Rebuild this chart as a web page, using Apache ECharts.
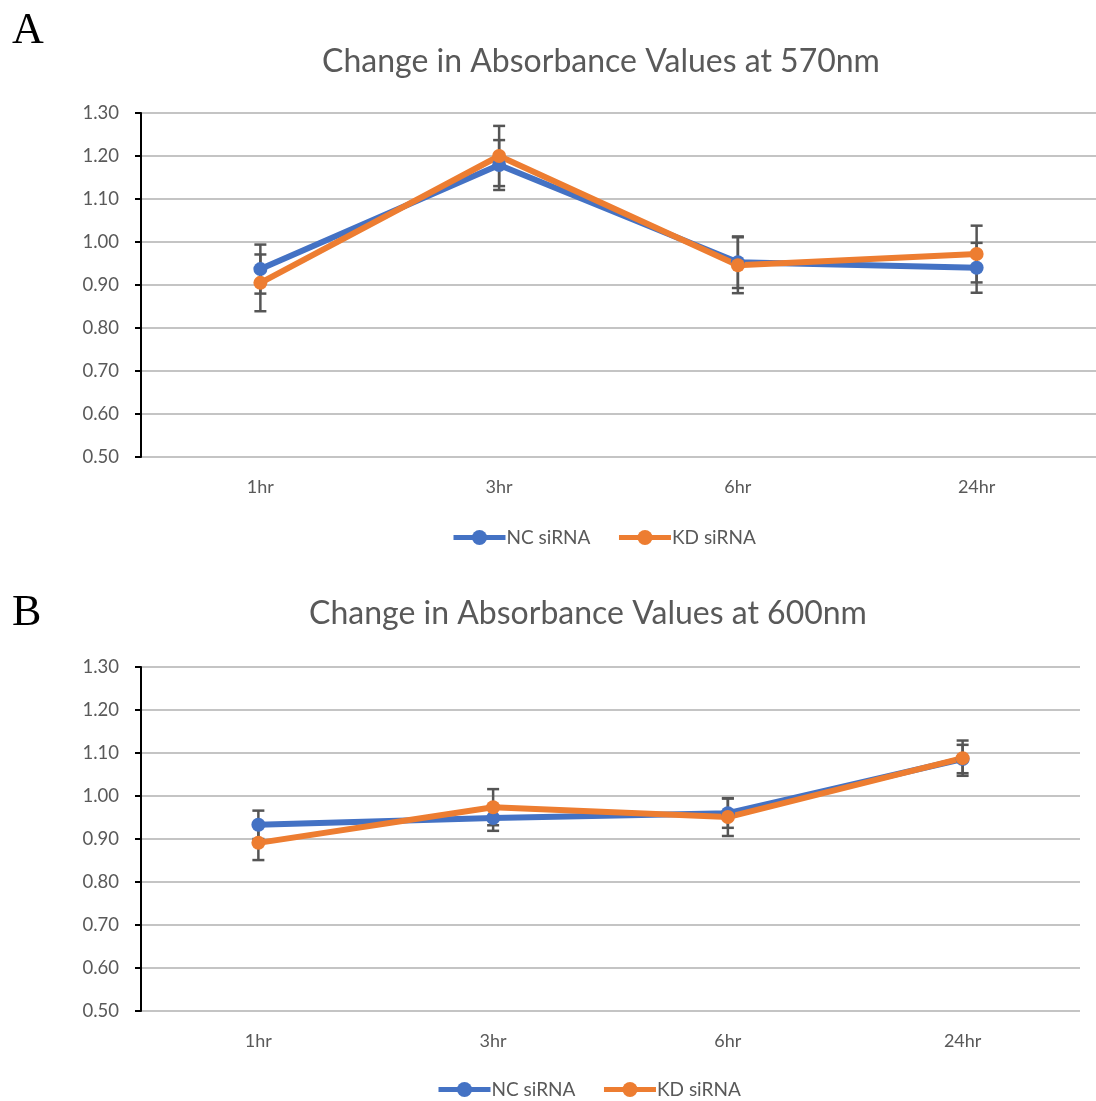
<!DOCTYPE html>
<html>
<head>
<meta charset="utf-8">
<title>Absorbance</title>
<script src="https://cdn.jsdelivr.net/npm/echarts@6/dist/echarts.min.js"></script>
<style>
html, body { margin: 0; padding: 0; background: #fff; }
#main { width: 1096px; height: 1101px; }
</style>
</head>
<body>
<div id="main"></div>
<script>
// data
var categories = ["1hr", "3hr", "6hr", "24hr"];
var seriesNames = ["NC siRNA", "KD siRNA"];

var nc570 = [0.937, 1.179, 0.953, 0.940];
var nc570Err = [0.057, 0.058, 0.060, 0.058];
var kd570 = [0.905, 1.200, 0.946, 0.972];
var kd570Err = [0.066, 0.070, 0.065, 0.066];

var nc600 = [0.933, 0.949, 0.960, 1.086];
var nc600Err = [0.033, 0.030, 0.034, 0.033];
var kd600 = [0.891, 0.974, 0.951, 1.088];
var kd600Err = [0.040, 0.042, 0.044, 0.041];

var titles = ["Change in Absorbance Values at 570nm", "Change in Absorbance Values at 600nm"];
var panelLabels = ["A", "B"];

var blue = "#4472C4";
var orange = "#ED7D31";
var textGray = "#595959";
var font = "Lato";

// [index, low, high] for the custom error bar series
function errData(vals, errs) {
  return vals.map(function (v, i) {
    return [i, v - errs[i], v + errs[i]];
  });
}

function renderErr(params, api) {
  var x = api.value(0);
  var lo = api.coord([x, api.value(1)]);
  var hi = api.coord([x, api.value(2)]);
  var cap = 6;
  var style = { stroke: "#555", lineWidth: 2.5 };
  return {
    type: "group",
    children: [
      { type: "line", shape: { x1: lo[0], y1: lo[1], x2: hi[0], y2: hi[1] }, style: style },
      { type: "line", shape: { x1: lo[0] - cap, y1: lo[1], x2: lo[0] + cap, y2: lo[1] }, style: style },
      { type: "line", shape: { x1: hi[0] - cap, y1: hi[1], x2: hi[0] + cap, y2: hi[1] }, style: style }
    ]
  };
}

function xAxisFor(gi) {
  return {
    type: "category",
    gridIndex: gi,
    data: categories,
    boundaryGap: true,
    axisLine: { show: false },
    axisTick: { show: false },
    axisLabel: { color: textGray, fontSize: 18, fontFamily: font, margin: 21 }
  };
}

function yAxisFor(gi) {
  return {
    type: "value",
    gridIndex: gi,
    min: 0.5,
    max: 1.3,
    interval: 0.1,
    axisLine: { show: true, lineStyle: { color: "#000", width: 2 } },
    axisTick: { show: true, length: 6, lineStyle: { color: "#000", width: 2 } },
    axisLabel: {
      color: textGray, fontSize: 18.5, fontFamily: font, margin: 22,
      formatter: function (v) { return v.toFixed(2); }
    },
    splitLine: { show: true, lineStyle: { color: "#c4c4c4", width: 2 } }
  };
}

function lineSeries(name, data, color, gi) {
  return {
    name: name,
    type: "line",
    xAxisIndex: gi,
    yAxisIndex: gi,
    data: data,
    symbol: "circle",
    symbolSize: 14,
    lineStyle: { color: color, width: 6 },
    itemStyle: { color: color },
    z: 3
  };
}

function errSeries(name, vals, errs, gi) {
  return {
    name: name,
    type: "custom",
    xAxisIndex: gi,
    yAxisIndex: gi,
    renderItem: renderErr,
    encode: { x: 0, y: [1, 2] },
    data: errData(vals, errs),
    z: 2,
    silent: true
  };
}

function legendAt(left, top) {
  return {
    data: seriesNames, left: left, top: top, padding: 0,
    itemWidth: 52, itemHeight: 19, itemGap: 26,
    lineStyle: { width: 5 },
    textStyle: { color: textGray, fontSize: 19, fontFamily: font, padding: [0, 0, 0, -4] }
  };
}

var myChart = echarts.init(document.getElementById("main"));

myChart.setOption({
  animation: false,
  color: [blue, orange],
  title: [
    { text: titles[0], left: 596, top: 41, textAlign: "center",
      textStyle: { color: textGray, fontSize: 32, fontWeight: "normal", fontFamily: font } },
    { text: titles[1], left: 583, top: 593, textAlign: "center",
      textStyle: { color: textGray, fontSize: 32, fontWeight: "normal", fontFamily: font } }
  ],
  graphic: [
    { type: "text", left: 12, top: 9, style: { text: panelLabels[0], fontSize: 44, fontFamily: "Liberation Serif", fill: "#000" } },
    { type: "text", left: 12, top: 591, style: { text: panelLabels[1], fontSize: 44, fontFamily: "Liberation Serif", fill: "#000" } }
  ],
  legend: [legendAt(451, 528), legendAt(436, 1080)],
  grid: [
    { left: 141, top: 113, width: 967, height: 344 },
    { left: 141, top: 667, width: 939, height: 344 }
  ],
  xAxis: [xAxisFor(0), xAxisFor(1)],
  yAxis: [yAxisFor(0), yAxisFor(1)],
  series: [
    errSeries("NC err 570", nc570, nc570Err, 0),
    errSeries("KD err 570", kd570, kd570Err, 0),
    lineSeries(seriesNames[0], nc570, blue, 0),
    lineSeries(seriesNames[1], kd570, orange, 0),
    errSeries("NC err 600", nc600, nc600Err, 1),
    errSeries("KD err 600", kd600, kd600Err, 1),
    lineSeries(seriesNames[0], nc600, blue, 1),
    lineSeries(seriesNames[1], kd600, orange, 1)
  ]
});

window.addEventListener("resize", function () {
  myChart.resize();
});
</script>
</body>
</html>
